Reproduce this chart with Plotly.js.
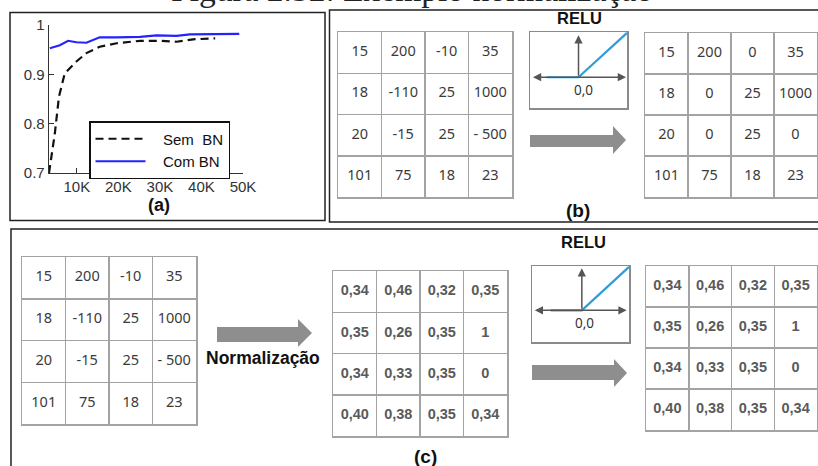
<!DOCTYPE html>
<html>
<head>
<meta charset="utf-8">
<script src="https://cdn.plot.ly/plotly-3.0.1.min.js"></script>
<style>html,body{margin:0;padding:0;background:#fff;}#chart{width:818px;height:466px;}</style>
</head>
<body>
<div id="chart"></div>
<script>
// ---------- data: panel (a) ----------
const semBNSteps = [3300, 4700, 5700, 7100, 9900, 12300, 15500, 19600, 25200, 30000, 34000, 38000, 43300];
const semBNAcc   = [0.700, 0.780, 0.855, 0.902, 0.926, 0.943, 0.956, 0.963, 0.968, 0.968, 0.966, 0.971, 0.973];
const comBNSteps = [3500, 5900, 7900, 9900, 12300, 15500, 19600, 25200, 29200, 34000, 37200, 42800, 49100];
const comBNAcc   = [0.953, 0.959, 0.968, 0.965, 0.964, 0.975, 0.975, 0.976, 0.979, 0.978, 0.981, 0.981, 0.982];
const xTickVals  = [10000, 20000, 30000, 40000, 50000];
const xTickText  = ['10K', '20K', '30K', '40K', '50K'];
const yTickVals  = [0.7, 0.8, 0.9, 1.0];
const yTickText  = ['0.7', '0.8', '0.9', '1'];

// ---------- data: matrices ----------
const inputMatrix = [
  ['15', '200', '-10', '35'],
  ['18', '-110', '25', '1000'],
  ['20', '-15', '25', '- 500'],
  ['101', '75', '18', '23']
];
const reluOutputMatrix = [
  ['15', '200', '0', '35'],
  ['18', '0', '25', '1000'],
  ['20', '0', '25', '0'],
  ['101', '75', '18', '23']
];
const normalizedMatrix = [
  ['0,34', '0,46', '0,32', '0,35'],
  ['0,35', '0,26', '0,35', '1'],
  ['0,34', '0,33', '0,35', '0'],
  ['0,40', '0,38', '0,35', '0,34']
];
const reluNormMatrix = [
  ['0,34', '0,46', '0,32', '0,35'],
  ['0,35', '0,26', '0,35', '1'],
  ['0,34', '0,33', '0,35', '0'],
  ['0,40', '0,38', '0,35', '0,34']
];
// ReLU curve: x input, y output
const reluX = [-0.66, 0, 1];
const reluY = [0, 0, 0.98];

// ---------- helpers (pixel -> paper) ----------
const W = 818, H = 466;
const px = v => v / W;
const py = v => 1 - v / H;
const dX = (a, b) => [px(a), px(b)];
const dY = (top, bottom) => [py(bottom), py(top)];
function pathPx(pts) {
  return 'M' + pts.map(p => px(p[0]).toFixed(5) + ',' + py(p[1]).toFixed(5)).join('L') + 'Z';
}

const traces = [];
const layout = {
  width: W, height: H,
  margin: {l: 0, r: 0, t: 0, b: 0},
  paper_bgcolor: '#fff', plot_bgcolor: 'rgba(0,0,0,0)',
  showlegend: true,
  font: {family: 'Liberation Sans, Arial, sans-serif', color: '#333'},
  shapes: [], annotations: []
};

// ---------- panel (a) chart ----------
traces.push({
  type: 'scatter', mode: 'lines', name: '\u00a0\u00a0\u00a0Sem\u00a0\u00a0BN',
  x: semBNSteps, y: semBNAcc, xaxis: 'x', yaxis: 'y',
  line: {color: '#111', width: 2.2, dash: '8px,5px'}, hoverinfo: 'none'
});
traces.push({
  type: 'scatter', mode: 'lines', name: '\u00a0\u00a0\u00a0Com BN',
  x: comBNSteps, y: comBNAcc, xaxis: 'x', yaxis: 'y',
  line: {color: '#2323ff', width: 2.2}, hoverinfo: 'none'
});
const tickFont = {size: 15, color: '#333', family: 'Liberation Sans, Arial, sans-serif'};
layout.xaxis = {
  domain: dX(49, 243), range: [3300, 50000], anchor: 'y',
  tickvals: xTickVals, ticktext: xTickText, ticks: 'inside', ticklen: 5, tickcolor: '#333',
  showline: true, linecolor: '#333', linewidth: 1.3, showgrid: false, zeroline: false,
  tickfont: tickFont
};
layout.yaxis = {
  domain: dY(25, 173), range: [0.7, 1.0], anchor: 'x',
  tickvals: yTickVals, ticktext: yTickText, ticks: 'inside', ticklen: 5, tickcolor: '#333',
  showline: true, linecolor: '#333', linewidth: 1.3, showgrid: false, zeroline: false,
  tickfont: tickFont
};
layout.legend = {
  x: px(89), y: py(121), xanchor: 'left', yanchor: 'top',
  bordercolor: '#111', borderwidth: 1.5, bgcolor: '#fff',
  font: {size: 15, color: '#111', family: 'Liberation Sans, Arial, sans-serif'},
  itemwidth: 50, tracegroupgap: 0
};

// ---------- matrices ----------
const tables = [
  {m: inputMatrix,      box: [338, 512, 32, 197], font: {family: 'Noto Sans, Open Sans, sans-serif', size: 14.5, color: '#3a3a3a'}},
  {m: reluOutputMatrix, box: [645, 817, 33, 197], font: {family: 'Noto Sans, Open Sans, sans-serif', size: 14.5, color: '#3a3a3a'}},
  {m: inputMatrix,      box: [22, 196, 257, 424], font: {family: 'Noto Sans, Open Sans, sans-serif', size: 14.5, color: '#3a3a3a'}},
  {m: normalizedMatrix, box: [333, 507, 271, 436], font: {family: 'Liberation Sans, Arial, sans-serif', size: 14.5, color: '#5a5a5a', weight: 'bold'}},
  {m: reluNormMatrix,   box: [646, 817, 266, 430], font: {family: 'Liberation Sans, Arial, sans-serif', size: 14.5, color: '#5a5a5a', weight: 'bold'}}
];
tables.forEach((t, i) => {
  const n = i + 2;
  const xs = [], ys = [], tx = [];
  t.m.forEach((row, r) => row.forEach((v, c) => { xs.push(c + 0.5); ys.push(r + 0.5); tx.push(v); }));
  traces.push({
    type: 'scatter', mode: 'text', x: xs, y: ys, text: tx,
    xaxis: 'x' + n, yaxis: 'y' + n, textfont: t.font, showlegend: false, hoverinfo: 'none'
  });
  const common = {
    showgrid: true, gridcolor: '#a3a3a3', gridwidth: 1.5, dtick: 1, tick0: 0,
    zeroline: false, showticklabels: false, ticks: '',
    showline: true, mirror: true, linecolor: '#a3a3a3', linewidth: 1.5, fixedrange: true
  };
  layout['xaxis' + n] = Object.assign({}, common, {domain: dX(t.box[0], t.box[1]), range: [0, 4], anchor: 'y' + n});
  layout['yaxis' + n] = Object.assign({}, common, {domain: dY(t.box[2], t.box[3]), range: [4, 0], anchor: 'x' + n});
});

// ---------- ReLU icons ----------
const relus = [
  {n: 7, box: [530, 627, 32, 108], xr: [-1, 1], yr: [-0.68, 1], hx: [-0.97, 0.98], vy: 0.93, lbl: [0.1, -0.28]},
  {n: 8, box: [532, 629, 266, 342], xr: [-1.057, 1], yr: [-0.716, 1], hx: [-1.03, 0.95], vy: 0.95, lbl: [0.06, -0.29]}
];
relus.forEach(r => {
  const n = r.n;
  const common = {showgrid: false, zeroline: false, showticklabels: false, ticks: '',
    showline: true, mirror: true, linecolor: '#8a8a8a', linewidth: 1.5, fixedrange: true};
  layout['xaxis' + n] = Object.assign({}, common, {domain: dX(r.box[0], r.box[1]), range: r.xr, anchor: 'y' + n});
  layout['yaxis' + n] = Object.assign({}, common, {domain: dY(r.box[2], r.box[3]), range: r.yr, anchor: 'x' + n});
  layout.annotations.push({
    xref: 'x' + n, yref: 'y' + n, axref: 'x' + n, ayref: 'y' + n,
    x: r.hx[1], y: 0, ax: r.hx[0], ay: 0, text: '', showarrow: true,
    arrowhead: 2, arrowside: 'end+start', arrowsize: 1.1, arrowwidth: 1.5, arrowcolor: '#555'
  });
  layout.annotations.push({
    xref: 'x' + n, yref: 'y' + n, axref: 'x' + n, ayref: 'y' + n,
    x: 0, y: r.vy, ax: 0, ay: 0, text: '', showarrow: true,
    arrowhead: 2, arrowsize: 1.1, arrowwidth: 1.5, arrowcolor: '#555'
  });
  layout.annotations.push({
    xref: 'x' + n, yref: 'y' + n, x: r.lbl[0], y: r.lbl[1], text: '0,0', showarrow: false,
    font: {family: 'Noto Sans, Open Sans, sans-serif', size: 13.5, color: '#333'}
  });
  traces.push({
    type: 'scatter', mode: 'lines', x: reluX, y: reluY, xaxis: 'x' + n, yaxis: 'y' + n,
    line: {color: '#2f9ed6', width: 2.2}, showlegend: false, hoverinfo: 'none'
  });
});

// ---------- frames and big arrows ----------
const frame = {type: 'rect', xref: 'paper', yref: 'paper', line: {color: '#222', width: 1.5}, fillcolor: 'rgba(0,0,0,0)'};
layout.shapes.push(Object.assign({}, frame, {x0: px(10), x1: px(325), y0: py(220.5), y1: py(12.5)}));
layout.shapes.push(Object.assign({}, frame, {x0: px(329.5), x1: px(822), y0: py(222), y1: py(10)}));
layout.shapes.push(Object.assign({}, frame, {x0: px(11), x1: px(822), y0: py(472), y1: py(229)}));

const arrowFill = {type: 'path', xref: 'paper', yref: 'paper', fillcolor: '#8e8e8e', line: {width: 0}};
function bigArrow(x0, xh, xt, bt, bb, ht, hb) {
  const ym = (ht + hb) / 2;
  return Object.assign({}, arrowFill, {path: pathPx([[x0, bt], [xh, bt], [xh, ht], [xt, ym], [xh, hb], [xh, bb], [x0, bb]])});
}
layout.shapes.push(bigArrow(530, 613, 626, 135, 147, 126, 154));
layout.shapes.push(bigArrow(217, 298, 312, 327, 342, 319, 347));
layout.shapes.push(bigArrow(532, 614, 627, 365, 380, 359, 387));

// ---------- text labels ----------
const bold = (size) => ({family: 'Liberation Sans, Arial, sans-serif', size: size, color: '#111', weight: 'bold'});
function lab(text, x, y, font) {
  layout.annotations.push({xref: 'paper', yref: 'paper', x: px(x), y: py(y), text: text, showarrow: false,
    xanchor: 'center', yanchor: 'middle', font: font});
}
lab('<b>(a)</b>', 159, 205, bold(18));
lab('<b>(b)</b>', 578, 210, bold(19));
lab('<b>(c)</b>', 425, 456, bold(19));
lab('<b>RELU</b>', 579, 18, bold(16.5));
lab('<b>RELU</b>', 583, 242, bold(16.5));
lab('<b>Normalização</b>', 263, 358, bold(17.5));
lab('Figura 2.32: Exemplo normalização', 412, -11, {family: 'Liberation Serif, serif', size: 33.5, color: '#222'});

Plotly.newPlot('chart', traces, layout, {staticPlot: true, displayModeBar: false});
</script>
</body>
</html>
